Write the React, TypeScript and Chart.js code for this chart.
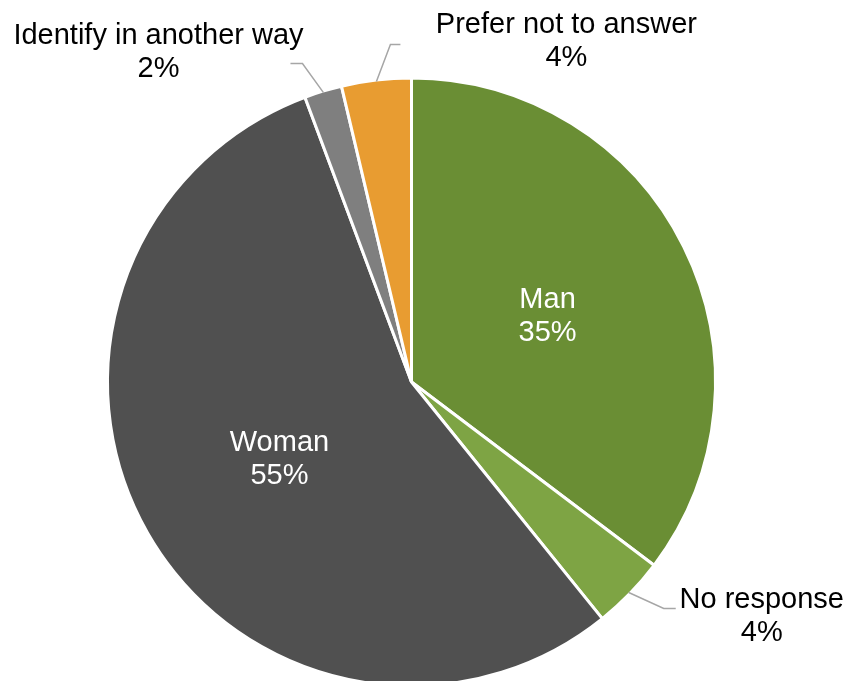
import React, { useEffect, useRef } from "react";
import { Chart, registerables } from "chart.js";

Chart.register(...registerables);

const categories = ["Man", "No response", "Woman", "Identify in another way", "Prefer not to answer"];
const shares = [35.3, 3.9, 55.1, 2.0, 3.7];
const sliceColors = ["#6A8E34", "#7EA444", "#505050", "#7F7F7F", "#E89C31"];

// label placement style: inside labels at half radius, outside labels with leader lines
const labelStyle: Record<string, any> = {
  "Man": { inside: true },
  "Woman": { inside: true },
  "No response": { elbow: [35, 16], end: [47, 16], text: [133, 15] },
  "Identify in another way": { elbow: [-21, -29], end: [-33, -29], text: [-165, -49] },
  "Prefer not to answer": { elbow: [14, -37], end: [24, -37], text: [190, -49] },
};

const FONT = '29px "Liberation Sans", Arial, sans-serif';
const LINE = 33;

const labelPlugin = {
  id: "pieLabels",
  afterDatasetsDraw(chart: any) {
    const ctx = chart.ctx;
    const meta = chart.getDatasetMeta(0);
    const data = chart.data.datasets[0].data as number[];
    const total = data.reduce((a, b) => a + b, 0);
    ctx.save();
    ctx.font = FONT;
    ctx.textAlign = "center";
    ctx.textBaseline = "alphabetic";
    meta.data.forEach((arc: any, i: number) => {
      const name = chart.data.labels[i];
      const st = labelStyle[name];
      const { x, y, startAngle, endAngle, outerRadius } = arc.getProps(
        ["x", "y", "startAngle", "endAngle", "outerRadius"], true
      );
      const mid = (startAngle + endAngle) / 2;
      const pct = Math.round((data[i] / total) * 100) + "%";
      if (st.inside) {
        const cx = x + Math.cos(mid) * outerRadius * 0.5;
        const cy = y + Math.sin(mid) * outerRadius * 0.5;
        ctx.fillStyle = "#FFFFFF";
        ctx.fillText(name, cx, cy - 6);
        ctx.fillText(pct, cx, cy - 6 + LINE);
      } else {
        const r = outerRadius - 1.5;
        const ox = x + Math.cos(mid) * r;
        const oy = y + Math.sin(mid) * r;
        ctx.strokeStyle = "#A6A6A6";
        ctx.lineWidth = 1.5;
        ctx.beginPath();
        ctx.moveTo(ox, oy);
        ctx.lineTo(ox + st.elbow[0], oy + st.elbow[1]);
        ctx.lineTo(ox + st.end[0], oy + st.end[1]);
        ctx.stroke();
        ctx.fillStyle = "#000000";
        const tx = ox + st.text[0];
        const ty = oy + st.text[1];
        ctx.fillText(name, tx, ty);
        ctx.fillText(pct, tx, ty + LINE);
      }
    });
    ctx.restore();
  },
};

export default function App() {
  const ref = useRef<HTMLCanvasElement | null>(null);
  useEffect(() => {
    if (!ref.current) return;
    const chart = new Chart(ref.current, {
      type: "pie",
      data: {
        labels: categories,
        datasets: [
          {
            data: shares,
            backgroundColor: sliceColors,
            borderColor: "#FFFFFF",
            borderWidth: 3,
          },
        ],
      },
      options: {
        responsive: false,
        animation: false,
        layout: { padding: { left: 106, top: 76.5, right: 134, bottom: 12.5 } },
        plugins: { legend: { display: false }, tooltip: { enabled: false } },
      },
      plugins: [labelPlugin],
    });
    return () => chart.destroy();
  }, []);
  return (
    <div style={{ position: "absolute", left: 0, top: 0, width: 851, height: 681, overflow: "hidden", background: "#fff" }}>
      <canvas ref={ref} width={851} height={700} style={{ display: "block" }} />
    </div>
  );
}
